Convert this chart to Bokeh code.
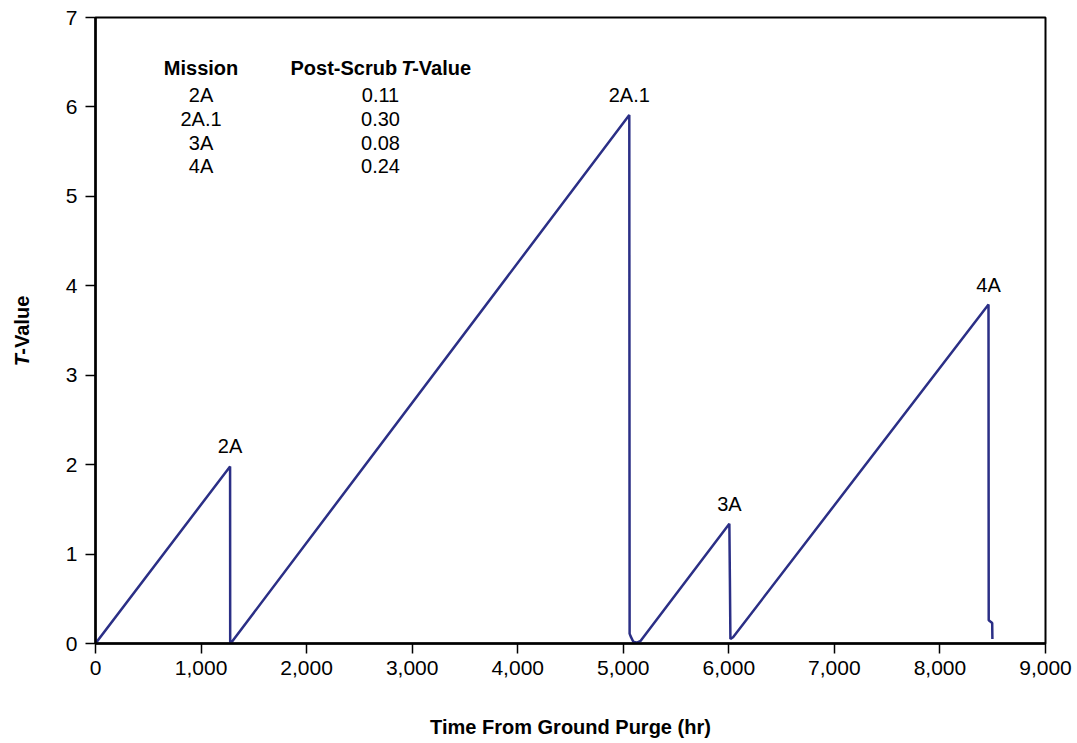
from bokeh.plotting import figure
from bokeh.models import Range1d, FixedTicker, NumeralTickFormatter, ColumnDataSource
from bokeh.core.properties import value
from bokeh.embed import file_html
from bokeh.resources import INLINE
import math

# ---- data ----
time_hr = [0, 1275, 1276, 1280, 5057, 5060, 5070, 5095, 5130, 5165,
           6005, 6010, 6015, 6040, 8460, 8462, 8495, 8497]
t_value = [0.0, 1.98, 0.02, 0.0, 5.91, 0.11, 0.08, 0.02, 0.01, 0.03,
           1.34, 0.73, 0.05, 0.07, 3.79, 0.26, 0.23, 0.05]

peak_names = ["2A", "2A.1", "3A", "4A"]
peak_x = [1275, 5057, 6005, 8460]
peak_y = [1.98, 5.91, 1.34, 3.79]

table_missions = ["2A", "2A.1", "3A", "4A"]
table_values = ["0.11", "0.30", "0.08", "0.24"]

x_ticks = [0, 1000, 2000, 3000, 4000, 5000, 6000, 7000, 8000, 9000]
y_ticks = [0, 1, 2, 3, 4, 5, 6, 7]

FONT = "'Liberation Sans', Arial, sans-serif"
LINE = "#2b2f86"

p = figure(width=1077, height=743, x_range=Range1d(0, 9000), y_range=Range1d(0, 7),
           output_backend="svg", toolbar_location=None,
           min_border_left=95, min_border_right=32, min_border_top=17, min_border_bottom=100)
p.background_fill_color = "white"
p.border_fill_color = "white"
p.xgrid.visible = False
p.ygrid.visible = False
p.outline_line_color = "black"
p.outline_line_width = 2
p.outline_line_alpha = 1

for ax in (p.xaxis, p.yaxis):
    ax.axis_line_width = 2.5
    ax.axis_line_color = "black"
    ax.major_tick_line_width = 1.5
    ax.major_tick_line_color = "black"
    ax.major_tick_out = 10
    ax.major_tick_in = 0
    ax.minor_tick_out = 0
    ax.minor_tick_in = 0
    ax.major_label_text_font = FONT
    ax.major_label_text_font_size = "21px"
    ax.major_label_text_color = "black"

p.xaxis.ticker = FixedTicker(ticks=x_ticks)
p.xaxis.formatter = NumeralTickFormatter(format="0,0")
p.yaxis.ticker = FixedTicker(ticks=y_ticks)
p.xaxis.major_label_standoff = 7
p.yaxis.major_label_standoff = 8

p.xaxis.axis_label = "Time From Ground Purge (hr)"
p.xaxis.axis_label_text_font = FONT
p.xaxis.axis_label_text_font_style = "bold"
p.xaxis.axis_label_text_font_size = "20px"
p.xaxis.axis_label_text_color = "black"
p.xaxis.axis_label_standoff = 38

# main curve
p.line(time_hr, t_value, line_color=LINE, line_width=2.5)

# peak labels
src = ColumnDataSource(dict(x=peak_x, y=peak_y, t=peak_names))
p.text(x="x", y="y", text="t", source=src, text_align="center", text_baseline="bottom",
       y_offset=-9, text_font=value(FONT), text_font_size="20px", text_color="black")

# table
p.text(x=[1000], y=[6.44], text=["Mission"], text_align="center", text_baseline="middle",
       text_font=value(FONT), text_font_size="20px", text_font_style="bold", text_color="black")
p.text(x=[2858], y=[6.44], text=["Post-Scrub"], text_align="right", text_baseline="middle",
       text_font=value(FONT), text_font_size="20px", text_font_style="bold", text_color="black")
p.text(x=[2896], y=[6.44], text=["T"], text_align="left", text_baseline="middle",
       text_font=value(FONT), text_font_size="20px", text_font_style="bold italic", text_color="black")
p.text(x=[2896], y=[6.44], text=["-Value"], text_align="left", text_baseline="middle", x_offset=11,
       text_font=value(FONT), text_font_size="20px", text_font_style="bold", text_color="black")

rows_y = [6.13, 5.87, 5.60, 5.34]
p.text(x=[1000] * 4, y=rows_y, text=table_missions, text_align="center", text_baseline="middle",
       text_font=value(FONT), text_font_size="20px", text_color="black")
p.text(x=[2700] * 4, y=rows_y, text=table_values, text_align="center", text_baseline="middle",
       text_font=value(FONT), text_font_size="20px", text_color="black")

# y axis label with italic T (placed outside the frame)
yl1 = p.text(x=[-697], y=[3.10], text=["T"], angle=math.pi / 2, text_align="left", text_baseline="middle",
             text_font=value(FONT), text_font_size="20px", text_font_style="bold italic", text_color="black")
yl2 = p.text(x=[-697], y=[3.23], text=["-Value"], angle=math.pi / 2, text_align="left", text_baseline="middle",
             text_font=value(FONT), text_font_size="20px", text_font_style="bold", text_color="black")
yl1.level = "overlay"
yl2.level = "overlay"

open("out.html", "w").write(file_html(p, INLINE))
